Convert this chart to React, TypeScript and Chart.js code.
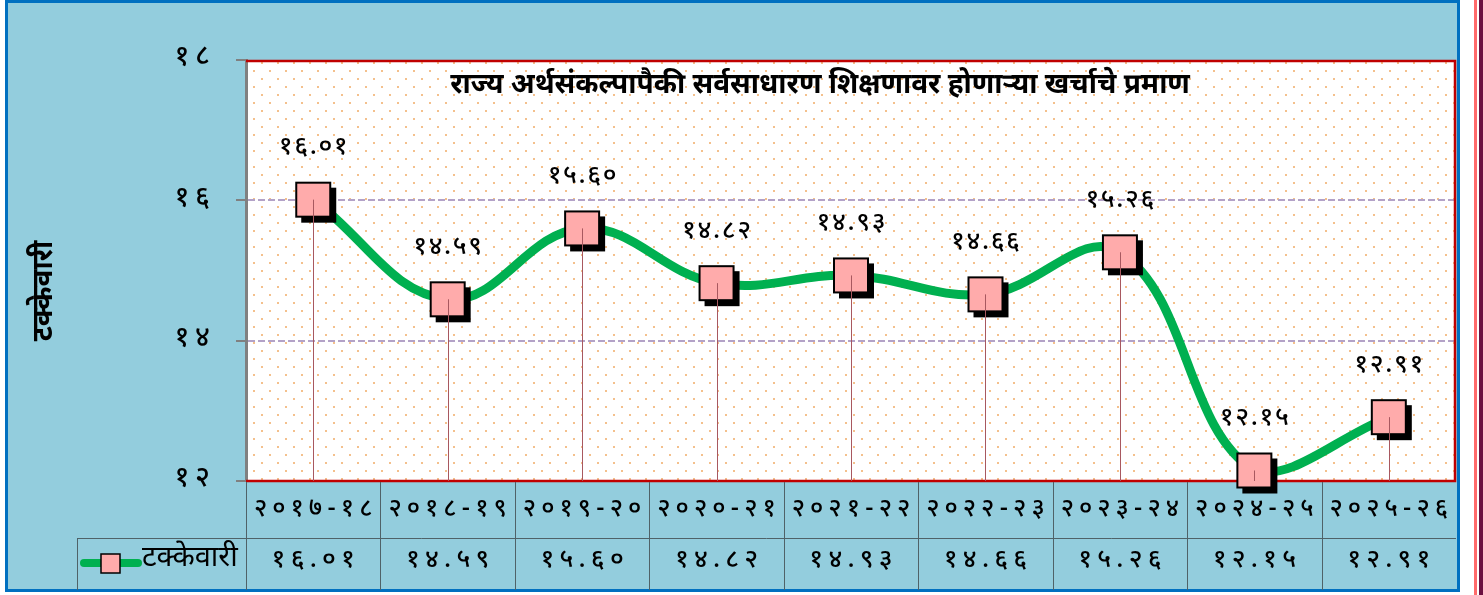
import React, { useEffect, useRef } from 'react';
import { Chart, registerables } from 'chart.js';

Chart.register(...registerables);

const categories = ['२०१७-१८', '२०१८-१९', '२०१९-२०', '२०२०-२१', '२०२१-२२', '२०२२-२३', '२०२३-२४', '२०२४-२५', '२०२५-२६'];
const values = [16.01, 14.59, 15.6, 14.82, 14.93, 14.66, 15.26, 12.15, 12.91];
const seriesLabel = 'टक्केवारी';
const yAxisTitle = 'टक्केवारी';
const chartTitle = 'राज्य अर्थसंकल्पापैकी सर्वसाधारण शिक्षणावर होणाऱ्या खर्चाचे प्रमाण';
const yMin = 12;
const yMax = 18;
const yStep = 2;
const gridValues = [14, 16];

const FONT = '"Noto Sans Devanagari", "Lohit Devanagari", "Noto Sans", sans-serif';
const DEV = ['०', '१', '२', '३', '४', '५', '६', '७', '८', '९'];
const toDev = (s: string) => s.replace(/[0-9]/g, (d) => DEV[+d]);
const spaced = (s: string, sp = '\u2009') => Array.from(s).join(sp);
const fmt = (v: number) => toDev(v.toFixed(2));

function makeMarker() {
  const c = document.createElement('canvas');
  c.width = 48;
  c.height = 48;
  const g = c.getContext('2d')!;
  g.fillStyle = '#000';
  g.fillRect(12, 12, 35, 35);
  g.fillStyle = '#FFABAB';
  g.fillRect(7, 7, 34, 34);
  g.strokeStyle = '#000';
  g.lineWidth = 2;
  g.strokeRect(7, 7, 34, 34);
  return c;
}

const bgPlugin = {
  id: 'bgPlugin',
  beforeDraw(chart: any) {
    const { ctx, chartArea: a, width, height } = chart;
    ctx.save();
    ctx.fillStyle = '#ffffff';
    ctx.fillRect(0, 0, width, height);
    ctx.fillStyle = '#93CDDD';
    ctx.fillRect(5, 0, 1455, 592);
    ctx.strokeStyle = '#0070C0';
    ctx.lineWidth = 3;
    ctx.strokeRect(6.5, 1.5, 1452, 589);
    ctx.fillStyle = '#FF6B6B';
    ctx.fillRect(1474, 0, 3, height);
    ctx.fillStyle = '#6B1040';
    ctx.fillRect(1479, 0, 4, height);
    // plot area
    ctx.fillStyle = '#ffffff';
    ctx.fillRect(a.left, a.top, a.right - a.left, a.bottom - a.top);
    ctx.fillStyle = '#F4C08C';
    let r = 0;
    for (let y = a.top + 2; y < a.bottom - 1; y += 8, r++) {
      const off = r % 2 ? 0 : 8;
      for (let x = a.left + 7 + off; x < a.right - 1; x += 16) {
        ctx.fillRect(x, y, 2, 2);
      }
    }
    ctx.restore();
  },
  beforeDatasetsDraw(chart: any) {
    const { ctx, chartArea: a } = chart;
    const xs = chart.scales.x;
    ctx.save();
    // red plot border
    ctx.strokeStyle = '#C00000';
    ctx.lineWidth = 2.5;
    ctx.beginPath();
    ctx.moveTo(a.left, a.top + 1);
    ctx.lineTo(a.right - 1, a.top + 1);
    ctx.lineTo(a.right - 1, a.bottom);
    ctx.lineTo(a.left, a.bottom);
    ctx.stroke();
    // table lines
    const n = categories.length;
    const w = (a.right - a.left) / n;
    ctx.strokeStyle = '#4F6268';
    ctx.lineWidth = 1;
    ctx.beginPath();
    const rowY = 538.5;
    ctx.moveTo(77, rowY);
    ctx.lineTo(a.right, rowY);
    ctx.moveTo(77.5, rowY);
    ctx.lineTo(77.5, 590);
    for (let i = 0; i < n; i++) {
      const x = Math.round(xs.getPixelForValue(i) - w / 2) + 0.5;
      ctx.moveTo(x, a.bottom + 1);
      ctx.lineTo(x, 590);
    }
    ctx.stroke();
    ctx.restore();
  },
  afterDatasetsDraw(chart: any) {
    const { ctx, chartArea: a } = chart;
    const meta = chart.getDatasetMeta(0);
    const xs = chart.scales.x;
    ctx.save();
    // drop lines
    ctx.strokeStyle = '#A8585F';
    ctx.lineWidth = 1;
    ctx.beginPath();
    meta.data.forEach((p: any) => {
      const x = Math.round(p.x) + 0.5;
      ctx.moveTo(x, p.y);
      ctx.lineTo(x, a.bottom);
    });
    ctx.stroke();
    // data labels
    ctx.fillStyle = '#000';
    ctx.font = `500 26px ${FONT}`;
    ctx.textAlign = 'center';
    ctx.textBaseline = 'middle';
    meta.data.forEach((p: any, i: number) => {
      ctx.fillText(spaced(fmt(values[i]), '\u200A'), p.x, p.y - 50);
    });
    // table values row
    values.forEach((v, i) => {
      ctx.fillText(spaced(fmt(v)), xs.getPixelForValue(i), 562);
    });
    // legend cell
    ctx.strokeStyle = '#00B050';
    ctx.lineWidth = 8;
    ctx.lineCap = 'round';
    ctx.beginPath();
    ctx.moveTo(84, 563);
    ctx.lineTo(138, 563);
    ctx.stroke();
    ctx.fillStyle = '#FFABAB';
    ctx.fillRect(101, 554, 19, 19);
    ctx.strokeStyle = '#000';
    ctx.lineWidth = 1.5;
    ctx.strokeRect(101, 554, 19, 19);
    ctx.fillStyle = '#000';
    ctx.textAlign = 'left';
    ctx.font = `29px ${FONT}`;
    ctx.fillText(seriesLabel, 142, 561);
    // title
    ctx.textAlign = 'center';
    ctx.font = `bold 28px ${FONT}`;
    ctx.fillText(chartTitle, 820, 88);
    // y axis title
    ctx.translate(47, 291);
    ctx.rotate(-Math.PI / 2);
    ctx.fillText(yAxisTitle, 0, 0);
    ctx.restore();
  },
};

export default function App() {
  const ref = useRef<HTMLCanvasElement>(null);
  useEffect(() => {
    const canvas = ref.current!;
    const marker = makeMarker();
    const chart = new Chart(canvas, {
      type: 'line',
      data: {
        labels: categories,
        datasets: [
          {
            label: seriesLabel,
            data: values,
            borderColor: '#00B050',
            borderWidth: 9,
            borderCapStyle: 'round',
            tension: 0.4,
            pointStyle: marker as any,
            pointRadius: 18,
            pointHoverRadius: 18,
            fill: false,
            clip: false as any,
          },
        ],
      },
      options: {
        animation: false,
        responsive: false,
        devicePixelRatio: 1,
        events: [],
        layout: { padding: { left: 0, top: 60, right: 27, bottom: 0 } },
        plugins: {
          legend: { display: false },
          title: { display: false },
          tooltip: { enabled: false },
        },
        scales: {
          x: {
            type: 'category',
            offset: true,
            grid: { display: false, drawTicks: false },
            border: { display: false },
            ticks: {
              color: '#000',
              font: { family: FONT, size: 25, weight: '500' as any },
              padding: 15,
              maxRotation: 0,
              autoSkip: false,
              callback: (v: any, i: number) => spaced(categories[i]),
            },
            afterFit: (s: any) => {
              s.height = 114;
            },
          },
          y: {
            min: yMin,
            max: yMax,
            ticks: {
              stepSize: yStep,
              color: '#000',
              font: { family: FONT, size: 28, weight: '500' as any },
              padding: 26,
              callback: (v: any) => spaced(toDev(String(v))),
            },
            grid: {
              color: (c: any) => (gridValues.includes(c.tick?.value) ? '#B3A2C7' : 'rgba(0,0,0,0)'),
              lineWidth: 2,
              tickColor: '#808080',
              tickLength: 10,
              tickWidth: 2,
              tickBorderDash: [],
            } as any,
            border: { display: true, color: '#808080', width: 3, dash: [7, 3] },
            afterFit: (s: any) => {
              s.width = 246;
            },
          },
        },
      },
      plugins: [bgPlugin],
    });
    return () => chart.destroy();
  }, []);
  return (
    <div style={{ position: 'fixed', left: 0, top: 0, width: 1483, height: 595 }}>
      <canvas ref={ref} width={1483} height={595} style={{ display: 'block' }} />
    </div>
  );
}
